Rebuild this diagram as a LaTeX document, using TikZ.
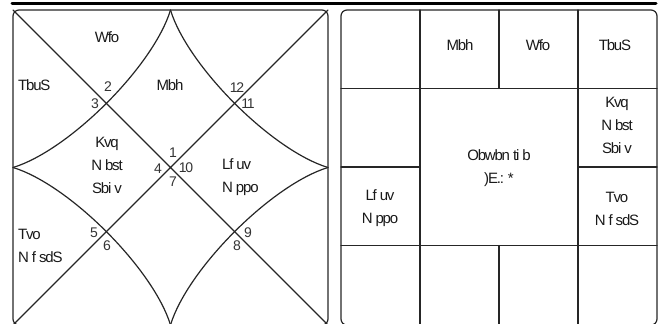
\documentclass[tikz,border=0pt]{standalone}
\usepackage{fontspec}
\setmainfont[LetterSpace=-8]{Liberation Sans}
\tikzset{
  chart/.style={line width=1.2pt, draw=black!85},
  house/.style={font=\fontsize{15}{23}\selectfont, inner sep=0pt, text=black!90},
  num/.style={font=\fontsize{14}{14}\selectfont, inner sep=0pt, text=black!80},
}
\begin{document}
\begin{tikzpicture}[x=1pt, y=-1pt, line cap=round, line join=round]
  \useasboundingbox (0,0) rectangle (662,324);
  \clip (0,0) rectangle (662,324);
  % === top bar ===
  \draw[line width=3pt] (12,3.5) -- (656,3.5);

  % === NORTH CHART ===
  \coordinate (nw) at (13,10);
  \coordinate (ne) at (328,10);
  \coordinate (se) at (328,325);
  \coordinate (sw) at (13,325);
  \coordinate (n) at (170.5,10);
  \coordinate (w) at (13,167.5);
  \coordinate (e) at (328,167.5);
  \coordinate (s) at (170.5,325);
  \draw[chart, rounded corners=6pt] (nw) rectangle (se);
  \draw[chart] (nw) -- (se) (ne) -- (sw);
  \draw[chart] (n) .. controls +(-17,56) and +(56,-17) .. (w);
  \draw[chart] (n) .. controls +(17,56) and +(-56,-17) .. (e);
  \draw[chart] (s) .. controls +(-17,-56) and +(56,17) .. (w);
  \draw[chart] (s) .. controls +(17,-56) and +(-56,17) .. (e);
  \foreach \t/\x/\y in {1/173/153, 2/108/87, 3/95/104, 4/158/169, 5/94/233, 6/107/246,
                        7/173/182, 8/237/246, 9/248/233, 10/186/168, 11/248/104, 12/237/88} {
    \node[num] (h\t) at (\x,\y) {\t};
  }
  \node[house] (nWfo) at (107,37) {Wfo};
  \node[house, anchor=west] (nTbuS) at (18,85) {TbuS};
  \node[house] (nMbh) at (170,85) {Mbh};
  \node[house, align=center] (nKvq) at (107,165) {Kvq\\N bst\\Sbi v};
  \node[house, align=left, anchor=west] (nLfuv) at (222,177.5) {Lf uv\\N ppo};
  \node[house, align=left, anchor=west] (nTvo) at (18,245.5) {Tvo\\N f sdS};

  % === SOUTH CHART ===
  \draw[chart, rounded corners=6pt] (341,10) rectangle (657,325);
  \foreach \x in {420, 578} {
    \draw[chart] (\x,10) -- (\x,325);
  }
  \foreach \y in {88.5, 245.5} {
    \draw[chart] (341,\y) -- (657,\y);
  }
  \draw[chart] (499,10) -- (499,88.5) (499,245.5) -- (499,325);
  \draw[chart] (341,167) -- (420,167) (578,167) -- (657,167);
  \node[house] (sMbh) at (460,45) {Mbh};
  \node[house] (sWfo) at (538,45) {Wfo};
  \node[house] (sTbuS) at (615,45) {TbuS};
  \node[house, align=center] (sKvq) at (617,125) {Kvq\\N bst\\Sbi v};
  \node[house, align=center] (sMid) at (499,168.5) {Obwbn ti b\\)E.: *};
  \node[house, align=center] (sLfuv) at (380,208.5) {Lf uv\\N ppo};
  \node[house, align=center] (sTvo) at (617,208.5) {Tvo\\N f sdS};
\end{tikzpicture}
\end{document}
